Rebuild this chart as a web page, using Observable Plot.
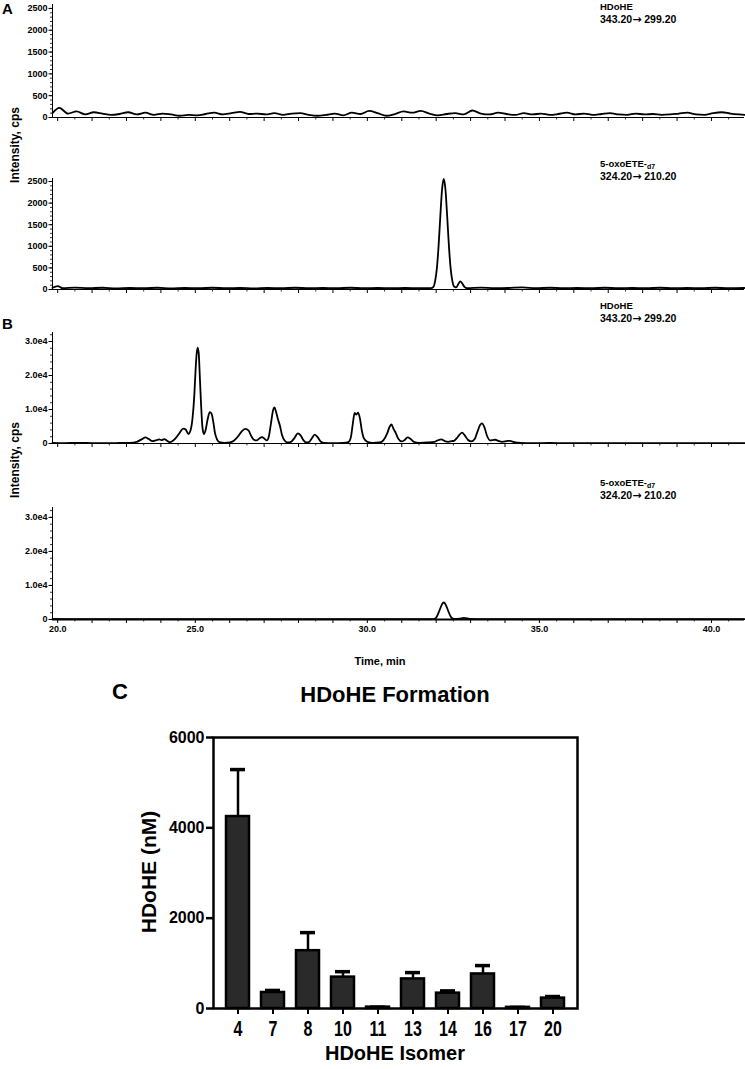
<!DOCTYPE html>
<html>
<head>
<meta charset="utf-8">
<script src="https://cdn.jsdelivr.net/npm/d3@7"></script>
<script src="https://cdn.jsdelivr.net/npm/@observablehq/plot@0.6"></script>
<style>
  body { margin: 0; background: white; }
  #root { position: relative; width: 745px; height: 1069px; overflow: hidden; background: white;
          font-family: 'Liberation Sans', Arial, sans-serif; font-weight: bold; color: black; }
  .abs { position: absolute; white-space: nowrap; }
  .pk { font-size: 9.5px; line-height: 13px; }
  .pk .num { font-size: 10.5px; }
  .arr { font-family: 'DejaVu Sans', sans-serif; font-size: 11px; }
  .rot { transform: translate(-50%, -50%) rotate(-90deg); }
  .ctr { transform: translate(-50%, -50%); }
  sub { font-size: 7px; vertical-align: -2px; line-height: 0; }
</style>
</head>
<body>
<div id="root"></div>
<script>
// ---------- DATA ----------
const timeDomain = [20.85, 40.96];
const xTickVals = [21, 25, 30, 35, 40];
const xTickLabels = ["20.0", "25.0", "30.0", "35.0", "40.0"];

const yTicksA = [0, 500, 1000, 1500, 2000, 2500];
const yLabelsA = ["0", "500", "1000", "1500", "2000", "2500"];
const yTicksB = [0, 10000, 20000, 30000];
const yLabelsB = ["0", "1.0e4", "2.0e4", "3.0e4"];

// Panel A, HDoHE 343.20 -> 299.20 (time min, cps)
const traceA1 = [[20.85,100],[21.05,220],[21.3,90],[21.55,140],[21.8,70],[22.05,120],[22.3,90],[22.55,60],[22.8,80],[23.05,120],[23.3,70],[23.55,110],[23.8,60],[24.05,90],[24.3,70],[24.55,40],[24.8,60],[25.05,50],[25.3,80],[25.55,110],[25.8,70],[26.05,100],[26.3,130],[26.55,80],[26.8,90],[27.05,70],[27.3,100],[27.55,60],[27.8,90],[28.05,100],[28.3,60],[28.55,40],[28.8,60],[29.05,90],[29.3,50],[29.55,110],[29.8,80],[30.05,150],[30.3,100],[30.55,40],[30.8,80],[31.05,140],[31.3,110],[31.55,150],[31.8,90],[32.05,50],[32.3,80],[32.55,100],[32.8,70],[33.05,160],[33.3,90],[33.55,70],[33.8,110],[34.05,80],[34.3,60],[34.55,100],[34.8,70],[35.05,90],[35.3,60],[35.55,80],[35.8,110],[36.05,70],[36.3,90],[36.55,60],[36.8,80],[37.05,100],[37.3,70],[37.55,60],[37.8,90],[38.05,70],[38.3,80],[38.55,60],[38.8,70],[39.05,90],[39.3,110],[39.55,70],[39.8,60],[40.05,100],[40.3,120],[40.55,90],[40.8,70],[40.96,60]];

// Panel A, 5-oxoETE-d7 324.20 -> 210.20
const traceA2 = [[20.85,40],[21.0,80],[21.15,30],[21.5,45],[21.9,30],[22.3,40],[22.7,25],[23.1,35],[23.5,30],[23.9,40],[24.3,25],[24.7,35],[25.1,30],[25.5,40],[25.9,30],[26.3,35],[26.7,25],[27.1,35],[27.5,30],[27.9,40],[28.3,30],[28.7,35],[29.1,30],[29.5,40],[29.9,30],[30.3,35],[30.7,30],[31.1,35],[31.5,30],[31.85,30],[31.92,60],[31.97,200],[32.02,490],[32.07,1010],[32.12,1690],[32.17,2310],[32.22,2560],[32.27,2310],[32.32,1690],[32.37,1010],[32.42,490],[32.47,200],[32.52,70],[32.58,50],[32.64,120],[32.7,190],[32.76,140],[32.82,60],[32.9,30],[33.3,45],[33.7,30],[34.1,35],[34.5,50],[34.9,30],[35.3,40],[35.7,30],[36.1,35],[36.5,30],[36.9,40],[37.3,30],[37.7,35],[38.1,30],[38.5,40],[38.9,30],[39.3,35],[39.7,30],[40.1,40],[40.5,30],[40.96,35]];

// Panel B, HDoHE 343.20 -> 299.20
const traceB1 = [[20.85,150],[21.2,100],[21.6,180],[22.0,120],[22.4,100],[22.8,150],[23.1,200],[23.3,500],[23.45,1300],[23.55,1800],[23.65,1300],[23.75,700],[23.85,900],[23.95,1200],[24.02,1000],[24.1,1300],[24.18,800],[24.25,400],[24.35,800],[24.45,1800],[24.55,3200],[24.65,4400],[24.72,4100],[24.8,2800],[24.86,3800],[24.92,7500],[24.97,14000],[25.01,22000],[25.04,26500],[25.07,28200],[25.1,26500],[25.13,20000],[25.17,11000],[25.21,4500],[25.25,2800],[25.3,4000],[25.36,7200],[25.42,9200],[25.47,8800],[25.52,6500],[25.57,3200],[25.63,1200],[25.7,400],[25.85,200],[26.0,300],[26.12,800],[26.25,2200],[26.35,3600],[26.45,4300],[26.55,3800],[26.62,2300],[26.7,1100],[26.78,900],[26.86,1500],[26.94,1900],[27.02,1300],[27.08,900],[27.14,2200],[27.2,6000],[27.26,9800],[27.3,10600],[27.35,9200],[27.4,7200],[27.46,5200],[27.52,2500],[27.6,800],[27.68,300],[27.78,500],[27.88,1600],[27.98,3000],[28.06,2400],[28.14,1000],[28.22,300],[28.3,400],[28.38,1400],[28.47,2600],[28.56,1800],[28.64,600],[28.75,150],[29.0,100],[29.3,150],[29.45,400],[29.52,1800],[29.58,6000],[29.63,9000],[29.68,8500],[29.73,9100],[29.78,7600],[29.84,3800],[29.9,1500],[30.0,500],[30.15,200],[30.35,300],[30.47,1000],[30.57,2800],[30.65,5000],[30.7,5600],[30.76,4300],[30.82,3200],[30.9,1400],[31.0,600],[31.08,1000],[31.17,1800],[31.25,1400],[31.35,500],[31.5,200],[31.75,300],[31.95,500],[32.08,1100],[32.15,1200],[32.25,700],[32.35,500],[32.45,700],[32.52,800],[32.6,1600],[32.68,2600],[32.75,3200],[32.83,2400],[32.92,1100],[33.02,600],[33.12,1300],[33.2,3500],[33.28,5500],[33.33,5900],[33.4,4800],[33.48,2200],[33.57,900],[33.65,1000],[33.72,1100],[33.8,800],[33.92,500],[34.05,700],[34.12,800],[34.2,600],[34.3,300],[34.45,150],[34.8,100],[35.3,150],[35.8,100],[36.3,120],[36.8,100],[37.3,130],[37.8,100],[38.3,120],[38.8,100],[39.3,130],[39.8,100],[40.3,120],[40.96,100]];

// Panel B, 5-oxoETE-d7 324.20 -> 210.20
const traceB2 = [[20.85,150],[21.5,100],[22.5,120],[23.5,100],[24.5,130],[25.5,100],[26.5,120],[27.5,100],[28.5,120],[29.5,100],[30.5,130],[31.5,100],[31.9,100],[31.97,300],[32.02,900],[32.07,2000],[32.12,3300],[32.17,4500],[32.22,5000],[32.27,4500],[32.32,3300],[32.37,2000],[32.42,900],[32.47,350],[32.55,150],[32.68,250],[32.8,450],[32.9,350],[33.0,150],[33.3,100],[34.0,130],[34.5,100],[35.5,120],[36.5,100],[37.5,120],[38.5,100],[39.5,120],[40.96,100]];

// Panel C
const isomers = ["4", "7", "8", "10", "11", "13", "14", "16", "17", "20"];
const hdoheMean = [4250, 355, 1280, 695, 30, 655, 340, 765, 25, 230];
const hdoheUpper = [5290, 400, 1680, 815, 30, 795, 390, 950, 25, 265];
const yTicksC = [0, 2000, 4000, 6000];

// ---------- DRAW ----------
const root = document.getElementById("root");
const FONT = "'Liberation Sans', Arial, sans-serif";

function place(node, left, top) {
  node.style.position = "absolute";
  node.style.left = left + "px";
  node.style.top = top + "px";
  root.appendChild(node);
}
function label(html, left, top, cls, extra) {
  const d = document.createElement("div");
  d.className = "abs " + (cls || "");
  d.innerHTML = html;
  d.style.left = left + "px";
  d.style.top = top + "px";
  if (extra) Object.assign(d.style, extra);
  root.appendChild(d);
  return d;
}

const wholeMin = d3.range(21, 41);
const halfMin = d3.range(21.5, 41, 1);
const xLabelMap = new Map(xTickVals.map((v, i) => [v, xTickLabels[i]]));

function chrom(o) {
  const yMap = new Map(o.yTicks.map((v, i) => [v, o.yLabels[i]]));
  return Plot.plot({
    width: 745, height: o.height,
    marginLeft: 52, marginRight: 1, marginTop: o.mt, marginBottom: o.mb,
    style: {fontFamily: FONT, fontWeight: "bold", fontSize: "9px", color: "black", background: "transparent", overflow: "visible"},
    x: {domain: timeDomain},
    y: {domain: [0, o.yMax]},
    marks: [
      Plot.ruleX([timeDomain[0]], {stroke: "black", strokeWidth: 1}),
      Plot.ruleY([0], {stroke: "black", strokeWidth: o.baseW || 1}),
      Plot.axisY({ticks: o.yMinor, tickSize: 2, text: null, label: null, strokeWidth: 0.8}),
      Plot.axisY({ticks: o.yTicks, tickFormat: d => yMap.get(d), tickSize: 3.5, tickPadding: 1.5, label: null}),
      Plot.axisX({ticks: halfMin, tickSize: 2.5, text: null, label: null, strokeWidth: 0.8}),
      o.xLabels
        ? Plot.axisX({ticks: wholeMin, tickSize: 4, tickPadding: 2, tickFormat: d => xLabelMap.get(d) || "", label: null})
        : Plot.axisX({ticks: wholeMin, tickSize: 4, text: null, label: null}),
      Plot.line(o.data, {x: d => d[0], y: d => d[1], stroke: "black", strokeWidth: 1.8, curve: "monotone-x"})
    ]
  });
}

place(chrom({data: traceA1, yMax: 2590, yTicks: yTicksA, yLabels: yLabelsA, yMinor: d3.range(0, 2600, 100), height: 125, mt: 4, mb: 8}), 0, 0);
place(chrom({data: traceA2, yMax: 2570, yTicks: yTicksA, yLabels: yLabelsA, yMinor: d3.range(0, 2600, 100), height: 130, mt: 8, mb: 11}), 0, 170);
place(chrom({data: traceB1, yMax: 32650, yTicks: yTicksB, yLabels: yLabelsB, yMinor: d3.range(0, 33000, 2000), height: 126, mt: 7, mb: 8}), 0, 325);
place(chrom({data: traceB2, yMax: 32900, yTicks: yTicksB, yLabels: yLabelsB, yMinor: d3.range(0, 33000, 2000), height: 140, mt: 7, mb: 21, xLabels: true, baseW: 1.8}), 0, 500);

// Panel C bar chart
const barData = isomers.map((k, i) => ({isomer: k, mean: hdoheMean[i], upper: hdoheUpper[i]}));
const cPlot = Plot.plot({
  width: 745, height: 369,
  marginLeft: 213, marginRight: 168, marginTop: 37, marginBottom: 61,
  style: {fontFamily: FONT, fontWeight: "bold", fontSize: "16px", color: "black", background: "transparent", overflow: "visible"},
  x: {type: "band", domain: isomers, padding: 0.33},
  y: {domain: [0, 6000]},
  marks: [
    Plot.ruleX(barData, {x: "isomer", y1: "mean", y2: "upper", stroke: "black", strokeWidth: 2.5}),
    Plot.tickY(barData, {x: "isomer", y: "upper", stroke: "black", strokeWidth: 3.5, insetLeft: 4, insetRight: 4}),
    Plot.barY(barData, {x: "isomer", y: "mean", fill: "#2a2a2a", stroke: "black", strokeWidth: 2.5}),
    Plot.frame({stroke: "black", strokeWidth: 2.5}),
    Plot.axisY({ticks: yTicksC, tickFormat: d => String(d), tickSize: 7, tickPadding: 2, strokeWidth: 2.5, label: null, fontSize: 16}),
    Plot.axisX({tickSize: 6, tickPadding: 5, strokeWidth: 2, label: null, fontSize: 16, className: "cx"})
  ]
});
place(cPlot, 0, 700);
d3.select(cPlot).selectAll(".cx text").each(function() {
  const t = this.getAttribute("transform") || "";
  this.setAttribute("transform", t + " translate(0,1) scale(1,1.35)");
});

// ---------- TEXT ----------
label("A", 2, 0, "", {fontSize: "15px"});
label("B", 2, 315, "", {fontSize: "15px"});
label("C", 112, 679, "", {fontSize: "22px"});

const arrow = "<span class='arr'>&#8594;</span>";
label(`HDoHE<br><span class="num">343.20${arrow} 299.20</span>`, 600, 0, "pk");
label(`5-oxoETE-<sub>d7</sub><br><span class="num">324.20${arrow} 210.20</span>`, 600, 157, "pk");
label(`HDoHE<br><span class="num">343.20${arrow} 299.20</span>`, 600, 299, "pk");
label(`5-oxoETE-<sub>d7</sub><br><span class="num">324.20${arrow} 210.20</span>`, 600, 476, "pk");

label("Intensity, cps", 15, 145, "rot", {fontSize: "12px"});
label("Intensity, cps", 15, 460, "rot", {fontSize: "12px"});
label("Time, min", 380, 661, "ctr", {fontSize: "11px"});

label("HDoHE Formation", 395, 695, "ctr", {fontSize: "22px"});
label("HDoHE (nM)", 149, 872, "rot", {fontSize: "21px"});
label("HDoHE Isomer", 395, 1053, "ctr", {fontSize: "20px"});
</script>
</body>
</html>
